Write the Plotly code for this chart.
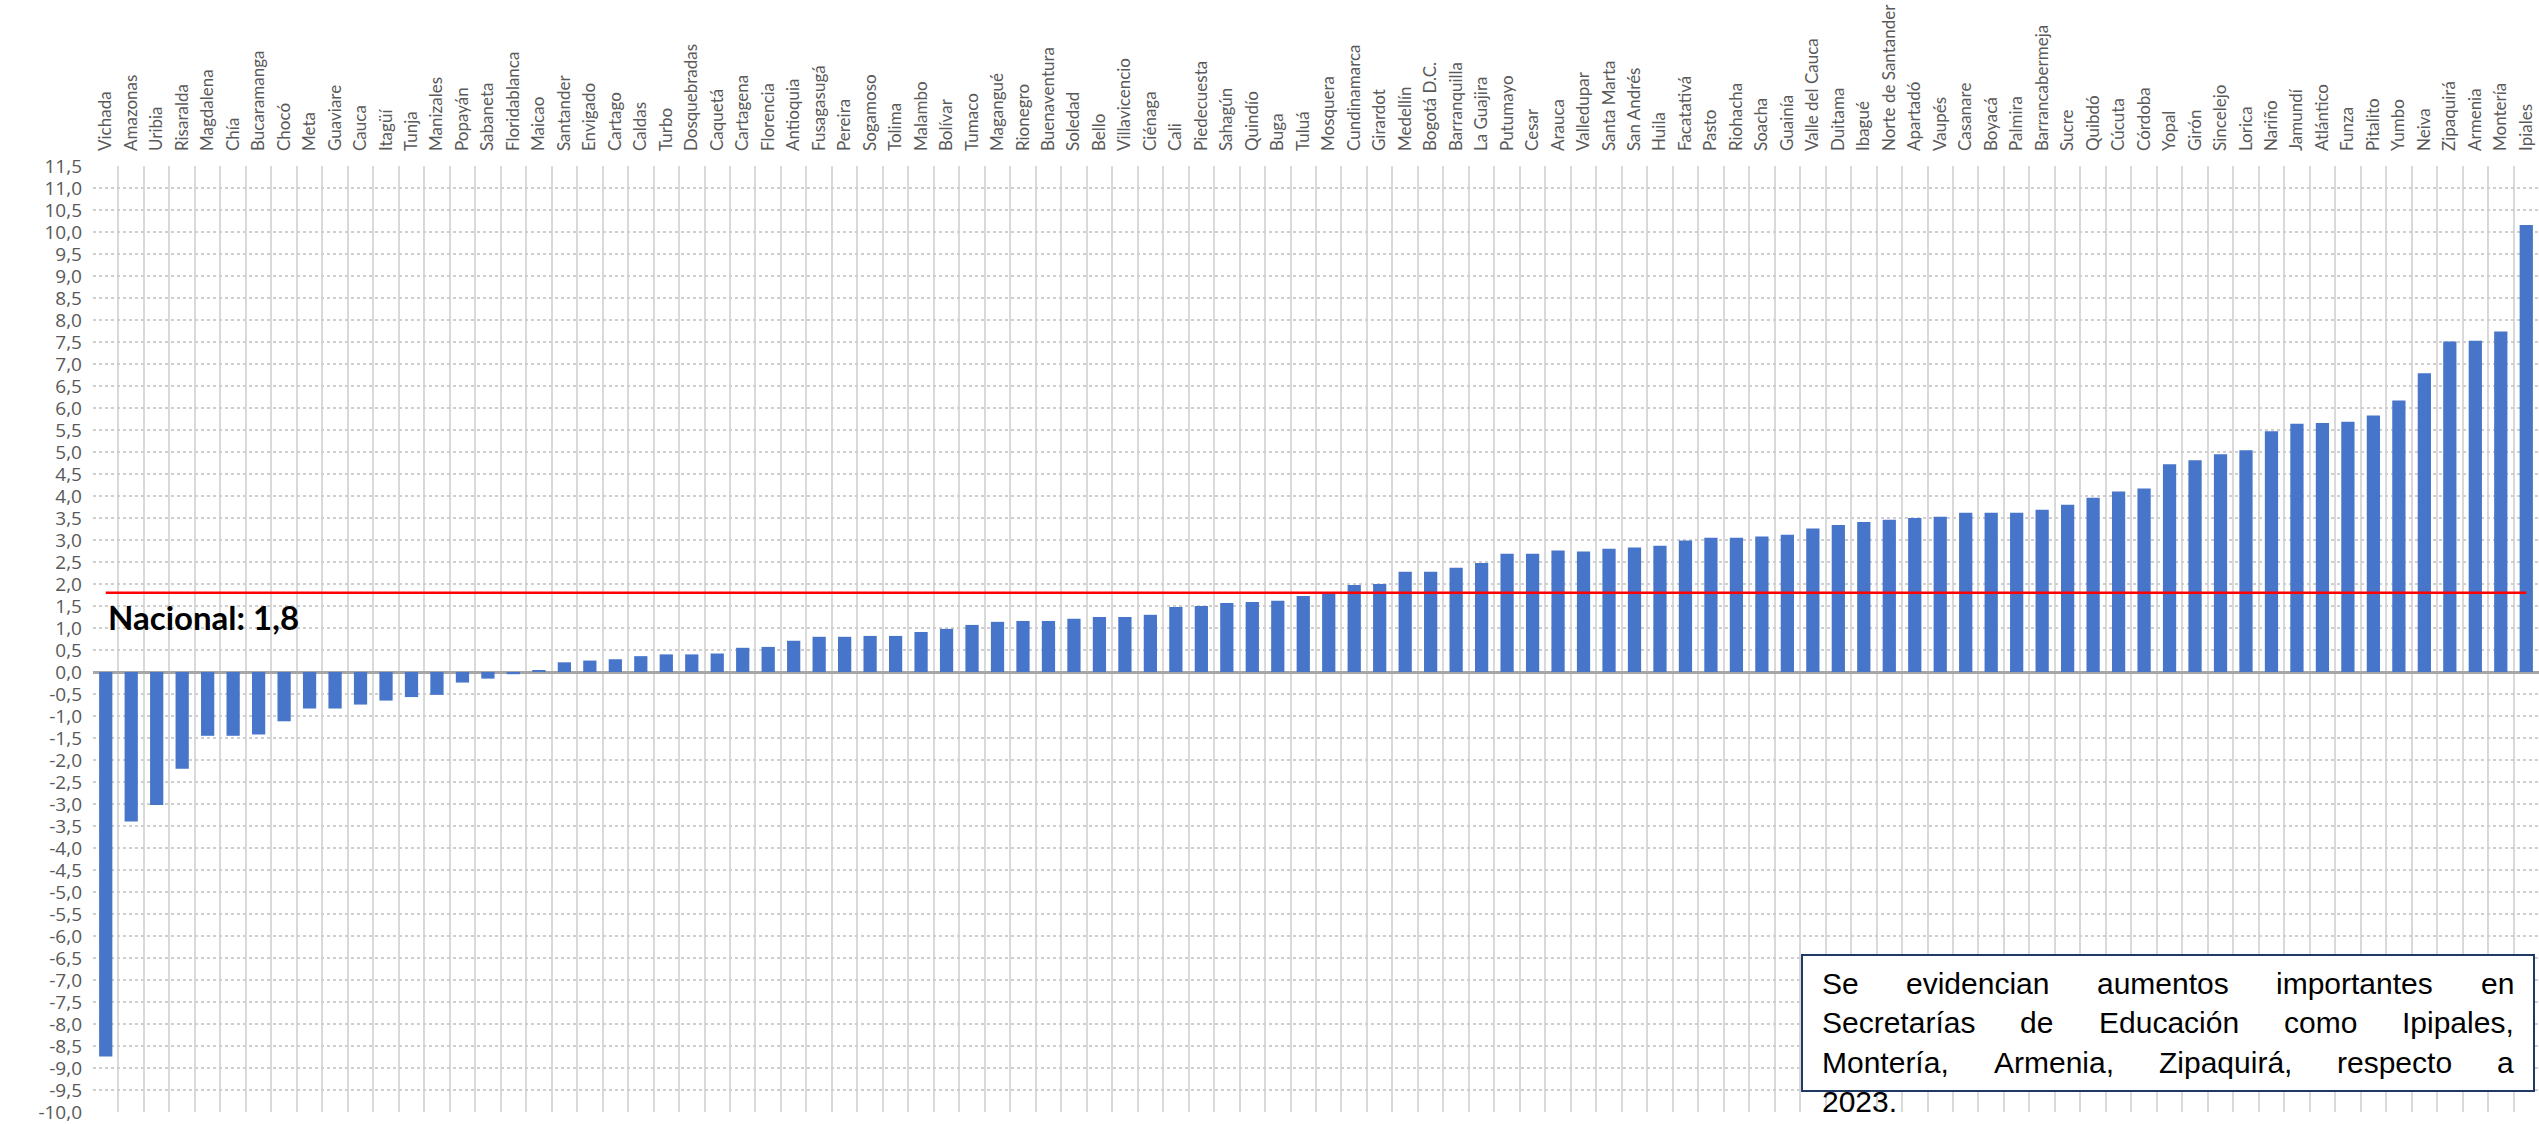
import plotly.graph_objects as go

# ---------------- data ----------------
categories = [
    "Vichada", "Amazonas", "Uribia", "Risaralda", "Magdalena", "Chía", "Bucaramanga", "Chocó",
    "Meta", "Guaviare", "Cauca", "Itagüí", "Tunja", "Manizales", "Popayán", "Sabaneta",
    "Floridablanca", "Maicao", "Santander", "Envigado", "Cartago", "Caldas", "Turbo",
    "Dosquebradas", "Caquetá", "Cartagena", "Florencia", "Antioquia", "Fusagasugá", "Pereira",
    "Sogamoso", "Tolima", "Malambo", "Bolívar", "Tumaco", "Magangué", "Rionegro", "Buenaventura",
    "Soledad", "Bello", "Villavicencio", "Ciénaga", "Cali", "Piedecuesta", "Sahagún", "Quindío",
    "Buga", "Tuluá", "Mosquera", "Cundinamarca", "Girardot", "Medellín", "Bogotá D.C.",
    "Barranquilla", "La Guajira", "Putumayo", "Cesar", "Arauca", "Valledupar", "Santa Marta",
    "San Andrés", "Huila", "Facatativá", "Pasto", "Riohacha", "Soacha", "Guainía",
    "Valle del Cauca", "Duitama", "Ibagué", "Norte de Santander", "Apartadó", "Vaupés",
    "Casanare", "Boyacá", "Palmira", "Barrancabermeja", "Sucre", "Quibdó", "Cúcuta", "Córdoba",
    "Yopal", "Girón", "Sincelejo", "Lorica", "Nariño", "Jamundí", "Atlántico", "Funza",
    "Pitalito", "Yumbo", "Neiva", "Zipaquirá", "Armenia", "Montería", "Ipiales",
]

values = [
    -8.74, -3.40, -3.02, -2.20, -1.45, -1.45, -1.42, -1.12,
    -0.83, -0.83, -0.74, -0.65, -0.57, -0.52, -0.24, -0.15,
    -0.05, 0.03, 0.22, 0.26, 0.29, 0.36, 0.40,
    0.40, 0.42, 0.55, 0.57, 0.71, 0.80, 0.80,
    0.82, 0.82, 0.91, 0.98, 1.07, 1.14, 1.16, 1.16,
    1.21, 1.25, 1.25, 1.30, 1.48, 1.50, 1.57, 1.59,
    1.62, 1.73, 1.77, 1.98, 2.00, 2.28, 2.28,
    2.37, 2.48, 2.69, 2.69, 2.76, 2.74, 2.80,
    2.83, 2.87, 2.99, 3.05, 3.05, 3.08, 3.12,
    3.26, 3.34, 3.41, 3.46, 3.50, 3.53,
    3.62, 3.62, 3.62, 3.69, 3.80, 3.96, 4.10, 4.17,
    4.72, 4.81, 4.95, 5.04, 5.47, 5.64, 5.66, 5.69,
    5.83, 6.17, 6.79, 7.51, 7.53, 7.74, 10.16,
]

national_value = 1.8
national_label = "Nacional: 1,8"

y_tick_values = [-10.0 + 0.5 * i for i in range(44)]
y_tick_labels = [f"{v:.1f}".replace(".", ",") for v in y_tick_values]

note_lines = [
    "Se evidencian aumentos importantes en",
    "Secretarías de Educación como Ipipales,",
    "Montería, Armenia, Zipaquirá, respecto a",
    "2023.",
]

# ---------------- layout constants ----------------
W, H = 2539, 1124
ML, MR, MT, MB = 93, 0, 166, 12
PW, PH = W - ML - MR, H - MT - MB

BAR_COLOR = "#4775CA"
GRID_COLOR = "#D9D9D9"
LABEL_COLOR = "#595959"


def px_to_paper_x(px):
    return (px - ML) / PW


def px_to_paper_y(py):
    return (H - MB - py) / PH


# Arial / Liberation Sans advance widths (per 1000 em) for justified note text
ARIAL_W = {
    " ": 278, ",": 278, ".": 278,
    "a": 556, "á": 556, "b": 556, "c": 500, "d": 556, "e": 556, "f": 278, "g": 556, "h": 556,
    "i": 222, "í": 278, "j": 222, "k": 500, "l": 222, "m": 833, "n": 556, "o": 556, "ó": 556,
    "p": 556, "q": 556, "r": 333, "s": 500, "t": 278, "u": 556, "v": 500, "w": 722, "x": 500,
    "y": 500, "z": 500,
    "A": 667, "E": 667, "I": 278, "M": 833, "S": 667, "Z": 611,
    "0": 556, "1": 556, "2": 556, "3": 556,
}


def text_width(s, size):
    return sum(ARIAL_W.get(ch, 556) for ch in s) * size / 1000.0


fig = go.Figure()

fig.add_trace(go.Bar(
    x=categories,
    y=values,
    marker=dict(color=BAR_COLOR, line=dict(width=0)),
    hoverinfo="skip",
    showlegend=False,
))

fig.add_trace(go.Scatter(
    x=categories,
    y=[national_value] * len(categories),
    mode="lines",
    line=dict(color="#FF0000", width=2.5),
    hoverinfo="skip",
    showlegend=False,
))

# National label
fig.add_annotation(
    x=categories[0], y=1.25, xref="x", yref="y",
    text=f"<b>{national_label}</b>",
    showarrow=False, xanchor="left", yanchor="middle", xshift=0,
    font=dict(family="Lato, Open Sans, sans-serif", size=33, color="#000000"),
)

# Note box
BOX_L, BOX_R, BOX_T, BOX_B = 1802, 2534, 955, 1091
fig.add_shape(
    type="rect", xref="paper", yref="paper",
    x0=px_to_paper_x(BOX_L), x1=px_to_paper_x(BOX_R),
    y0=px_to_paper_y(BOX_B), y1=px_to_paper_y(BOX_T),
    line=dict(color="#1F3864", width=2), fillcolor="#FFFFFF", layer="above",
)

NOTE_SIZE = 30
TEXT_L, TEXT_R = 1822, 2514
line_centers = [983, 1022, 1062, 1101]
for li, line in enumerate(note_lines):
    words = line.split(" ")
    widths = [text_width(w, NOTE_SIZE) for w in words]
    is_last = li == len(note_lines) - 1
    if is_last or len(words) == 1:
        gap = text_width(" ", NOTE_SIZE)
    else:
        gap = (TEXT_R - TEXT_L - sum(widths)) / (len(words) - 1)
    xpos = TEXT_L
    for w, wd in zip(words, widths):
        fig.add_annotation(
            x=px_to_paper_x(xpos - 2), y=px_to_paper_y(line_centers[li]),
            xref="paper", yref="paper", text=w, showarrow=False,
            xanchor="left", yanchor="middle",
            font=dict(family="Liberation Sans, Arial, sans-serif", size=NOTE_SIZE, color="#000000"),
        )
        xpos += wd + gap

fig.update_layout(
    width=W, height=H,
    margin=dict(l=ML, r=MR, t=MT, b=MB, pad=0),
    paper_bgcolor="#FFFFFF",
    plot_bgcolor="#FFFFFF",
    bargap=0.48,
    showlegend=False,
    xaxis=dict(
        type="category",
        side="top",
        tickangle=-90,
        tickson="boundaries",
        showgrid=True,
        gridcolor=GRID_COLOR,
        gridwidth=2,
        ticks="",
        ticklabelstandoff=14,
        tickfont=dict(family="Lato, Open Sans, sans-serif", size=17, color=LABEL_COLOR),
        range=[-0.5, len(categories) - 0.5],
        showline=False,
        zeroline=False,
        automargin=False,
        fixedrange=True,
    ),
    yaxis=dict(
        range=[-10, 11.5],
        tickmode="array",
        tickvals=y_tick_values,
        ticktext=y_tick_labels,
        showgrid=True,
        gridcolor="#CFCFCF",
        griddash="dot",
        gridwidth=1.5,
        zeroline=True,
        zerolinecolor="#A6A6A6",
        zerolinewidth=2.5,
        ticks="",
        ticklabelstandoff=10,
        ticklabeloverflow="allow",
        tickfont=dict(family="Open Sans, sans-serif", size=19, color=LABEL_COLOR),
        showline=False,
        automargin=False,
        fixedrange=True,
    ),
)

fig.write_html(
    "out.html",
    config={"displayModeBar": False},
    post_script="document.body.style.margin='0';document.body.style.overflow='hidden';",
)
